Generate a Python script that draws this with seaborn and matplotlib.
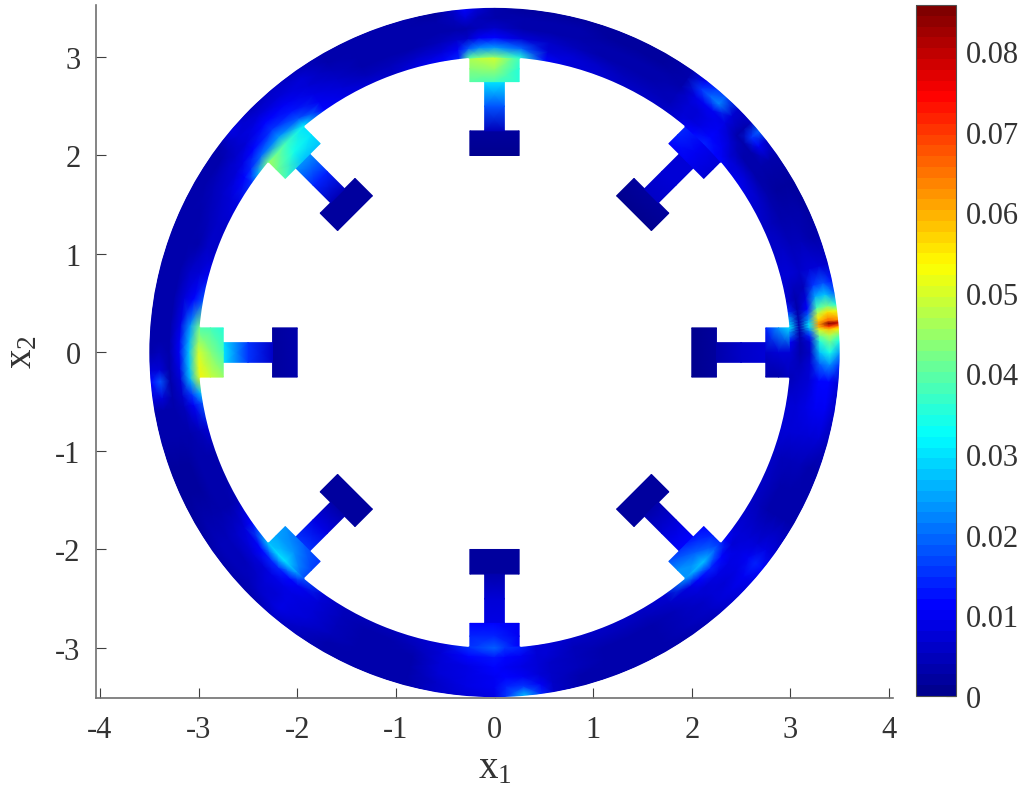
import numpy as np
import matplotlib
matplotlib.use('Agg')
import matplotlib.pyplot as plt
from matplotlib.colors import LinearSegmentedColormap, Normalize
from matplotlib.patches import Arc
import seaborn as sns

# ring values, in 1e-3 units, one row per angle
ring_radii = [3.0, 3.1, 3.2, 3.3, 3.4, 3.5]
ring_angles = [-180, -177, -175, -172, -170, -165, -160, -155, -150, -145, -140, -137, -135, -132, -130,
               -125, -120, -115, -110, -105, -100, -95, -90, -88, -85, -82, -80, -75, -70, -65, -60, -55,
               -50, -48, -45, -42, -39, -36, -30, -25, -20, -15, -10, -5, -2, 0, 2, 3, 4, 4.5, 5, 5.5, 6, 7,
               8, 10, 12, 15, 20, 25, 30, 35, 38, 40, 42, 45, 48, 50, 52, 55, 60, 65, 70, 75, 80, 85, 90,
               93, 95, 97, 100, 105, 110, 115, 120, 125, 130, 135, 140, 143, 145, 150, 155, 160, 165, 170,
               175, 178, 180]
ring_values = [
    [50, 28, 10, 3, 5, 4], [52, 28, 9, 3, 8, 8], [50, 26, 8, 3, 18, 12], [28, 16, 6, 3, 8, 8],
    [18, 10, 5, 3, 4, 4], [7, 5, 3, 3, 3, 3], [4, 3, 3, 2, 2, 2], [4, 3, 3, 2, 2, 2],
    [5, 4, 3, 3, 3, 2], [12, 8, 6, 5, 5, 4], [28, 12, 7, 5, 5, 4], [30, 14, 8, 6, 5, 4],
    [30, 14, 9, 7, 6, 4], [25, 12, 9, 8, 7, 5], [18, 10, 9, 9, 9, 6],
    [8, 7, 7, 7, 6, 5], [5, 5, 5, 5, 4, 4], [5, 4, 4, 3, 3, 4], [5, 4, 4, 3, 3, 4], [6, 5, 4, 4, 4, 4],
    [8, 8, 8, 7, 6, 6], [16, 12, 9, 9, 9, 8], [20, 13, 11, 10, 10, 9], [16, 11, 10, 11, 14, 16],
    [14, 10, 9, 10, 16, 28], [8, 8, 8, 8, 10, 14], [7, 7, 6, 6, 6, 6], [6, 5, 5, 5, 4, 4],
    [6, 5, 4, 4, 4, 4], [6, 5, 4, 4, 4, 4], [6, 5, 4, 4, 4, 4], [8, 6, 5, 5, 5, 4],
    [24, 9, 7, 6, 6, 5], [26, 11, 8, 7, 7, 6], [28, 14, 9, 8, 9, 8], [20, 11, 9, 9, 10, 9],
    [12, 8, 9, 10, 14, 12], [7, 7, 7, 8, 9, 7], [6, 5, 4, 4, 4, 3], [6, 5, 4, 4, 4, 3],
    [6, 5, 5, 5, 4, 3], [8, 8, 8, 8, 8, 5], [8, 8, 9, 10, 10, 6], [5, 6, 8, 12, 12, 8],
    [6, 5, 7, 20, 24, 16], [8, 4, 6, 28, 34, 24], [10, 4, 8, 35, 42, 34], [18, 4, 14, 42, 48, 42],
    [24, 4, 22, 50, 58, 54], [28, 4, 28, 60, 70, 65], [30, 4, 30, 62, 85, 80], [28, 4, 28, 60, 66, 62],
    [26, 4, 24, 56, 62, 60], [22, 4, 18, 48, 56, 52], [14, 4, 12, 38, 42, 36], [8, 4, 7, 25, 28, 20],
    [7, 5, 5, 16, 18, 13], [8, 7, 6, 8, 8, 6], [6, 6, 5, 5, 4, 3], [6, 5, 4, 3, 3, 2], [7, 6, 4, 2, 2, 2],
    [10, 8, 4, 3, 3, 3], [9, 7, 4, 3, 10, 6], [11, 8, 5, 3, 16, 20], [12, 10, 8, 4, 4, 5],
    [14, 12, 10, 9, 8, 6], [12, 9, 9, 10, 22, 18], [10, 8, 8, 10, 20, 15], [7, 7, 8, 9, 16, 10],
    [6, 5, 5, 4, 3, 3], [6, 5, 4, 3, 2, 2], [6, 5, 4, 3, 2, 2], [7, 6, 4, 3, 2, 2], [8, 7, 5, 3, 3, 2],
    [11, 8, 6, 4, 3, 2], [36, 20, 8, 4, 3, 2], [44, 24, 12, 6, 3, 3], [42, 22, 10, 5, 5, 7],
    [40, 18, 6, 4, 7, 11], [14, 10, 6, 4, 5, 6], [12, 8, 5, 4, 3, 2], [9, 6, 4, 3, 3, 3],
    [6, 5, 4, 3, 3, 3], [7, 5, 4, 3, 3, 3], [9, 8, 6, 5, 4, 4], [12, 10, 9, 8, 8, 5],
    [32, 18, 13, 10, 8, 6], [38, 24, 16, 12, 8, 5], [42, 20, 12, 8, 7, 9], [26, 14, 9, 6, 5, 4],
    [16, 12, 8, 6, 4, 3], [9, 8, 6, 5, 4, 3], [6, 6, 5, 4, 3, 3], [6, 6, 4, 4, 3, 3], [10, 8, 6, 4, 3, 3],
    [18, 12, 7, 4, 3, 3], [42, 24, 9, 3, 4, 3], [46, 26, 10, 3, 4, 4], [50, 28, 10, 3, 5, 4],
]

# the eight T shaped arms, same units
arm_angles = [0, 45, 90, 135, 180, 225, 270, 315]
foot_values = [[1, 2], [1, 2], [1, 2], [2, 2], [3, 2], [2, 2], [2, 2], [2, 2]]
stem_values = [[4, 6, 7], [6, 8, 8], [5, 18, 30], [5, 14, 24], [6, 15, 30], [4, 9, 15], [4, 7, 9], [3, 8, 11]]
head_values = [
    [[3, 6, 14], [3, 7, 24], [6, 8, 30]],
    [[8, 10, 12], [8, 10, 14], [8, 10, 14]],
    [[36, 38, 40], [36, 45, 44], [38, 50, 48]],
    [[28, 28, 38], [30, 34, 42], [30, 38, 46]],
    [[36, 38, 45], [38, 43, 49], [40, 50, 54]],
    [[23, 20, 16], [25, 24, 17], [28, 30, 18]],
    [[12, 12, 10], [14, 14, 10], [16, 20, 12]],
    [[18, 14, 12], [23, 20, 14], [24, 28, 15]],
]

foot_r = [2.0, 2.25]
stem_r = [2.25, 2.5, 2.75]
head_r = [2.75, 2.88, 3.01]
foot_half = 0.25
stem_half = 0.1

x_ticks = [-4, -3, -2, -1, 0, 1, 2, 3, 4]
y_ticks = [-3, -2, -1, 0, 1, 2, 3]
x_labels = ['-4', '-3', '-2', '-1', '0', '1', '2', '3', '4']
y_labels = ['-3', '-2', '-1', '0', '1', '2', '3']
cbar_ticks = [0, 0.01, 0.02, 0.03, 0.04, 0.05, 0.06, 0.07, 0.08]
cbar_labels = ['0', '0.01', '0.02', '0.03', '0.04', '0.05', '0.06', '0.07', '0.08']
v_max = 0.0857

sns.set_theme(style='ticks', rc={'mathtext.fontset': 'custom', 'mathtext.rm': 'Liberation Serif',
                                 'mathtext.default': 'regular', 'axes.unicode_minus': False})
plt.rcParams['font.family'] = ['Liberation Serif', 'DejaVu Sans']

W, H = 1023, 804
fig = plt.figure(figsize=(W / 100, H / 100), dpi=100)
ax = fig.add_axes([96 / W, 1 - 699 / H, (893 - 96) / W, (699 - 6) / H])
cax = fig.add_axes([916 / W, 1 - 697 / H, (956 - 916) / W, (697 - 6) / H])

# seaborn refuses to hand out jet, and the matlab one has slightly different anchors anyway
jet_anchors = [(0, (0, 0, 0.5625)), (0.125, (0, 0, 1)), (0.375, (0, 1, 1)),
               (0.625, (1, 1, 0)), (0.875, (1, 0, 0)), (1, (0.5, 0, 0))]
cmap = LinearSegmentedColormap.from_list('matlab_jet', jet_anchors, N=64)
norm = Normalize(0, v_max)


def draw_ring(axis):
    th = np.radians(ring_angles)
    r = np.array(ring_radii)
    X = np.outer(np.cos(th), r)
    Y = np.outer(np.sin(th), r)
    return axis.pcolormesh(X, Y, np.array(ring_values) / 1000, cmap=cmap, norm=norm, shading='gouraud')


def draw_piece(axis, angle, radii, across, values):
    th = np.radians(angle)
    R, A = np.meshgrid(radii, across, indexing='ij')
    X = R * np.cos(th) - A * np.sin(th)
    Y = R * np.sin(th) + A * np.cos(th)
    axis.pcolormesh(X, Y, np.array(values) / 1000, cmap=cmap, norm=norm, shading='gouraud')


for i, angle in enumerate(arm_angles):
    foot = [[v, v] for v in foot_values[i]]
    stem = [[v, v] for v in stem_values[i]]
    draw_piece(ax, angle, foot_r, [-foot_half, foot_half], foot)
    draw_piece(ax, angle, stem_r, [-stem_half, stem_half], stem)
    draw_piece(ax, angle, head_r, [-foot_half, 0, foot_half], head_values[i])
mesh = draw_ring(ax)

# gouraud meshes are not antialiased, white arcs clean the ring edges up
ax.add_patch(Arc((0, 0), 2 * 3.51, 2 * 3.51, color='white', lw=1.5))
for angle in arm_angles:
    ax.add_patch(Arc((0, 0), 2 * 2.99, 2 * 2.99, theta1=angle + 5, theta2=angle + 40, color='white', lw=1.5))

ax.set_xlim(-4.04, 4.04)
ax.set_ylim(-3.508, 3.528)
ax.set_xticks(x_ticks)
ax.set_xticklabels(x_labels)
ax.set_yticks(y_ticks)
ax.set_yticklabels(y_labels)
ax.tick_params(direction='in', length=7, width=0.8, color='#404040', labelsize=22, labelcolor='#333333', pad=12)
ax.tick_params(axis='y', pad=11)
sns.despine(ax=ax)
for side in ['left', 'bottom']:
    ax.spines[side].set_color('#707070')
    ax.spines[side].set_linewidth(1.2)
ax.set_xlabel(r'$x_1$', fontsize=28, color='#333333', labelpad=4)
ax.set_ylabel(r'$x_2$', fontsize=28, color='#333333', labelpad=11)

cb = fig.colorbar(mesh, cax=cax)
cb.set_ticks(cbar_ticks)
cb.set_ticklabels(cbar_labels)
cb.ax.tick_params(direction='in', length=7, width=0.8, color='#404040', labelsize=22, labelcolor='#333333', pad=7)
cb.outline.set_edgecolor('#505050')
cb.outline.set_linewidth(0.8)

fig.savefig('out.png', dpi=100)
